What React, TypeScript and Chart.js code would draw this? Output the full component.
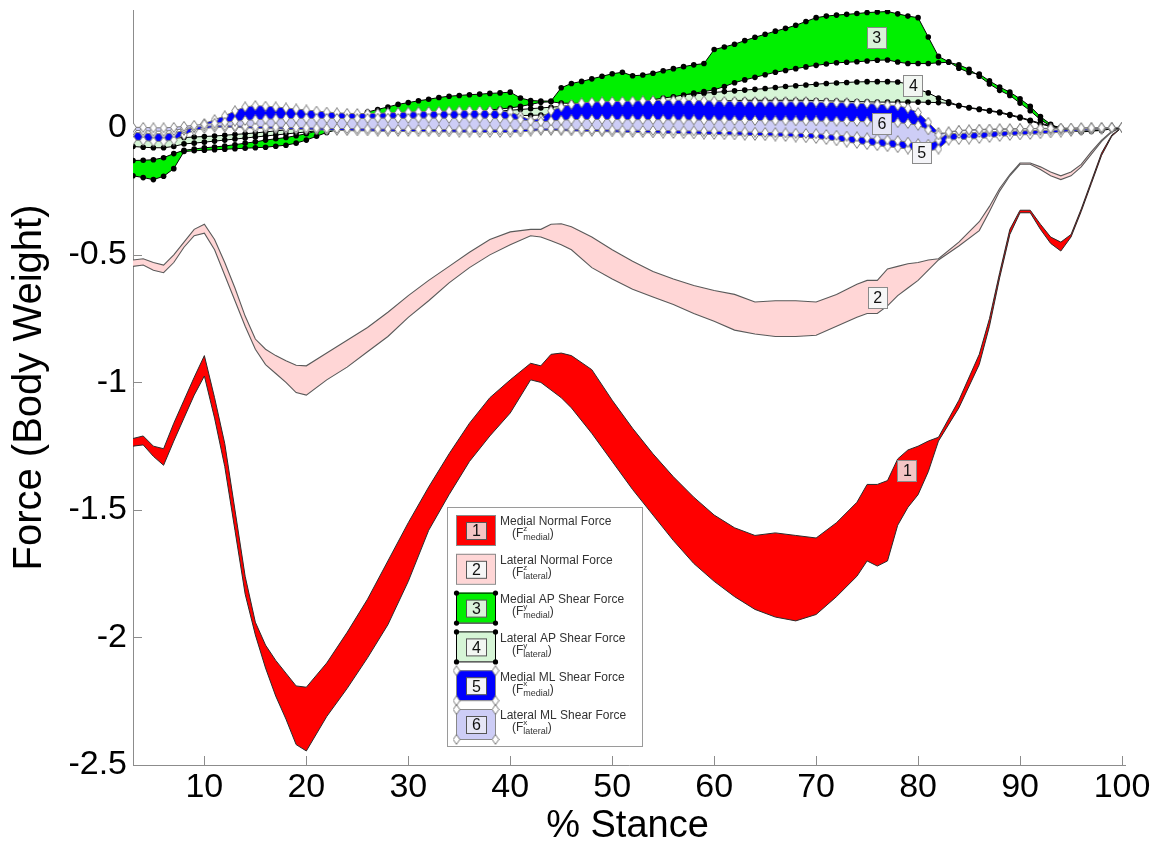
import React, { useEffect, useRef } from 'react';
import { Chart, registerables } from 'chart.js';

Chart.register(...registerables);

const FONT = "'Liberation Sans', Arial, Helvetica, sans-serif";

// ---------- Tick labels ----------
const xTicks = [10, 20, 30, 40, 50, 60, 70, 80, 90, 100];
const yTicks = [-2.5, -2, -1.5, -1, -0.5, 0];

// ---------- Normal forces (no markers) ----------
const xNormal = [3, 4, 5, 6, 7, 8, 9, 10, 11, 12, 13, 14, 15, 16, 17, 18, 19, 20, 22, 24, 26, 28, 30, 32, 34, 36, 38, 40, 42, 43, 44, 45, 46, 48, 50, 52, 54, 56, 58, 60, 62, 64, 66, 68, 70, 72, 74, 75, 76, 77, 78, 79, 80, 81, 82, 84, 86, 87, 88, 89, 90, 91, 92, 93, 94, 95, 96, 97, 98, 99, 100];

const medialNormalUpper = [-1.22, -1.21, -1.25, -1.26, -1.16, -1.07, -0.98, -0.895, -1.06, -1.24, -1.5, -1.76, -1.94, -2.03, -2.09, -2.14, -2.19, -2.195, -2.1, -1.98, -1.85, -1.7, -1.55, -1.41, -1.28, -1.16, -1.06, -0.99, -0.925, -0.935, -0.89, -0.885, -0.895, -0.95, -1.07, -1.18, -1.28, -1.37, -1.45, -1.52, -1.57, -1.6, -1.59, -1.6, -1.61, -1.55, -1.47, -1.4, -1.4, -1.385, -1.3, -1.265, -1.25, -1.23, -1.215, -1.07, -0.89, -0.75, -0.57, -0.4, -0.325, -0.325, -0.38, -0.43, -0.45, -0.42, -0.32, -0.21, -0.1, -0.03, 0];
const medialNormalLower = [-1.25, -1.245, -1.29, -1.325, -1.23, -1.14, -1.05, -0.975, -1.14, -1.33, -1.58, -1.83, -1.99, -2.12, -2.23, -2.32, -2.42, -2.445, -2.31, -2.2, -2.08, -1.95, -1.78, -1.58, -1.44, -1.31, -1.21, -1.12, -0.99, -1.0, -1.03, -1.06, -1.1, -1.2, -1.31, -1.42, -1.52, -1.62, -1.71, -1.78, -1.84, -1.89, -1.92, -1.935, -1.91, -1.84, -1.76, -1.7, -1.72, -1.7, -1.56, -1.49, -1.44, -1.35, -1.23, -1.1, -0.93, -0.78, -0.59, -0.42, -0.335, -0.335, -0.4, -0.455, -0.485, -0.43, -0.33, -0.22, -0.11, -0.035, 0];
const lateralNormalUpper = [-0.52, -0.515, -0.53, -0.54, -0.5, -0.45, -0.4, -0.38, -0.44, -0.53, -0.63, -0.74, -0.83, -0.87, -0.895, -0.915, -0.933, -0.935, -0.885, -0.835, -0.785, -0.725, -0.66, -0.6, -0.545, -0.49, -0.44, -0.41, -0.4, -0.4, -0.38, -0.378, -0.39, -0.43, -0.48, -0.525, -0.565, -0.595, -0.62, -0.64, -0.655, -0.685, -0.68, -0.68, -0.685, -0.655, -0.615, -0.6, -0.6, -0.555, -0.545, -0.535, -0.53, -0.52, -0.515, -0.45, -0.37, -0.31, -0.24, -0.185, -0.14, -0.14, -0.155, -0.175, -0.19, -0.175, -0.145, -0.095, -0.05, -0.015, 0];
const lateralNormalLower = [-0.545, -0.54, -0.56, -0.57, -0.53, -0.47, -0.425, -0.415, -0.48, -0.58, -0.68, -0.78, -0.87, -0.93, -0.965, -1.0, -1.04, -1.05, -0.99, -0.94, -0.88, -0.82, -0.745, -0.68, -0.61, -0.55, -0.5, -0.46, -0.425, -0.43, -0.445, -0.46, -0.48, -0.55, -0.595, -0.635, -0.665, -0.695, -0.73, -0.76, -0.795, -0.81, -0.82, -0.82, -0.815, -0.78, -0.745, -0.73, -0.73, -0.7, -0.66, -0.63, -0.6, -0.56, -0.52, -0.465, -0.405, -0.33, -0.25, -0.19, -0.145, -0.145, -0.165, -0.19, -0.205, -0.19, -0.155, -0.105, -0.055, -0.018, 0];

// ---------- Shear forces (1 % steps, with markers) ----------
const xShear = [3, 4, 5, 6, 7, 8, 9, 10, 11, 12, 13, 14, 15, 16, 17, 18, 19, 20, 21, 22, 23, 24, 25, 26, 27, 28, 29, 30, 31, 32, 33, 34, 35, 36, 37, 38, 39, 40, 41, 42, 43, 44, 45, 46, 47, 48, 49, 50, 51, 52, 53, 54, 55, 56, 57, 58, 59, 60, 61, 62, 63, 64, 65, 66, 67, 68, 69, 70, 71, 72, 73, 74, 75, 76, 77, 78, 79, 80, 81, 82, 83, 84, 85, 86, 87, 88, 89, 90, 91, 92, 93, 94, 95, 96, 97, 98, 99, 100];

const medialApA = [
  -0.13, -0.129, -0.127, -0.119, -0.103, -0.09, -0.085, -0.08, -0.077, -0.073,
  -0.068, -0.062, -0.057, -0.05, -0.045, -0.04, -0.033, -0.025, -0.015, 0.0,
  0.015, 0.03, 0.045, 0.06, 0.07, 0.08, 0.09, 0.097, 0.104, 0.11,
  0.117, 0.122, 0.125, 0.128, 0.13, 0.133, 0.135, 0.138, 0.115, 0.105,
  0.103, 0.103, 0.155, 0.172, 0.18, 0.19, 0.2, 0.21, 0.216, 0.202,
  0.205, 0.212, 0.222, 0.23, 0.238, 0.245, 0.25, 0.305, 0.315, 0.326,
  0.34, 0.353, 0.365, 0.377, 0.388, 0.4, 0.415, 0.43, 0.436, 0.44,
  0.443, 0.446, 0.45, 0.452, 0.454, 0.445, 0.436, 0.43, 0.354, 0.278,
  0.257, 0.232, 0.215, 0.209, 0.182, 0.158, 0.138, 0.112, 0.082, 0.042,
  0.012, -0.005, -0.014, -0.018, -0.015, -0.012, -0.006, 0];
const medialApB = [
  -0.19, -0.197, -0.205, -0.192, -0.162, -0.095, -0.092, -0.09, -0.088, -0.086,
  -0.084, -0.082, -0.08, -0.078, -0.074, -0.07, -0.062, -0.05, -0.035, -0.02,
  -0.01, -0.004, 0.002, 0.008, 0.014, 0.02, 0.026, 0.032, 0.037, 0.042,
  0.047, 0.052, 0.056, 0.06, 0.064, 0.068, 0.072, 0.076, 0.082, 0.09,
  0.098, 0.1, 0.095, 0.094, 0.094, 0.094, 0.093, 0.092, 0.092, 0.092,
  0.1, 0.108, 0.115, 0.12, 0.127, 0.134, 0.14, 0.147, 0.16, 0.175,
  0.186, 0.196, 0.206, 0.216, 0.223, 0.23, 0.237, 0.243, 0.248, 0.253,
  0.255, 0.257, 0.26, 0.263, 0.264, 0.256, 0.25, 0.25, 0.25, 0.253,
  0.255, 0.245, 0.228, 0.2, 0.17, 0.145, 0.125, 0.095, 0.065, 0.03,
  0.005, 0.0, -0.01, -0.014, -0.013, -0.01, -0.005, 0];
const lateralApA = [
  -0.04, -0.042, -0.043, -0.043, -0.042, -0.04, -0.038, -0.036, -0.034, -0.031,
  -0.028, -0.025, -0.022, -0.018, -0.014, -0.01, -0.006, -0.002, 0.002, 0.006,
  0.01, 0.014, 0.018, 0.022, 0.026, 0.03, 0.033, 0.036, 0.04, 0.043,
  0.046, 0.049, 0.052, 0.055, 0.058, 0.061, 0.064, 0.067, 0.07, 0.073,
  0.076, 0.079, 0.082, 0.086, 0.09, 0.094, 0.098, 0.102, 0.106, 0.11,
  0.114, 0.118, 0.122, 0.125, 0.128, 0.131, 0.134, 0.137, 0.14, 0.143,
  0.146, 0.149, 0.152, 0.156, 0.16, 0.163, 0.166, 0.169, 0.172, 0.174,
  0.176, 0.178, 0.179, 0.179, 0.179, 0.178, 0.17, 0.15, 0.135, 0.115,
  0.1, 0.085, 0.078, 0.072, 0.066, 0.06, 0.05, 0.04, 0.028, 0.016,
  0.006, -0.002, -0.008, -0.012, -0.012, -0.01, -0.005, 0];
const lateralApB = [
  -0.075, -0.078, -0.08, -0.08, -0.075, -0.065, -0.062, -0.058, -0.054, -0.05,
  -0.046, -0.042, -0.038, -0.034, -0.03, -0.026, -0.022, -0.018, -0.014, -0.01,
  -0.006, -0.002, 0.002, 0.006, 0.01, 0.013, 0.016, 0.019, 0.022, 0.025,
  0.028, 0.031, 0.034, 0.036, 0.038, 0.04, 0.042, 0.044, 0.046, 0.047,
  0.048, 0.049, 0.05, 0.051, 0.053, 0.058, 0.063, 0.068, 0.073, 0.078,
  0.082, 0.086, 0.09, 0.093, 0.096, 0.098, 0.1, 0.102, 0.104, 0.105,
  0.106, 0.106, 0.106, 0.106, 0.106, 0.106, 0.106, 0.105, 0.104, 0.103,
  0.102, 0.101, 0.1, 0.099, 0.099, 0.099, 0.099, 0.099, 0.098, 0.097,
  0.094, 0.085, 0.076, 0.07, 0.064, 0.057, 0.047, 0.037, 0.025, 0.013,
  0.003, -0.004, -0.01, -0.013, -0.013, -0.01, -0.005, 0];
const medialMlA = [
  -0.02, -0.022, -0.025, -0.025, -0.022, -0.012, 0.0, 0.015, 0.03, 0.045,
  0.065, 0.08, 0.085, 0.083, 0.08, 0.076, 0.072, 0.068, 0.064, 0.06,
  0.057, 0.055, 0.054, 0.054, 0.055, 0.057, 0.058, 0.06, 0.061, 0.062,
  0.063, 0.064, 0.065, 0.066, 0.066, 0.066, 0.065, 0.06, 0.045, 0.028,
  0.035, 0.065, 0.08, 0.09, 0.096, 0.099, 0.1, 0.101, 0.102, 0.103,
  0.104, 0.105, 0.106, 0.106, 0.106, 0.105, 0.104, 0.103, 0.102, 0.102,
  0.101, 0.1, 0.1, 0.1, 0.1, 0.1, 0.1, 0.099, 0.098, 0.097,
  0.096, 0.095, 0.093, 0.091, 0.088, 0.085, 0.075, 0.058, 0.02, -0.02,
  -0.025, -0.024, -0.022, -0.02, -0.018, -0.016, -0.015, -0.014, -0.013, -0.012,
  -0.011, -0.01, -0.009, -0.008, -0.006, -0.004, -0.002, 0];
const medialMlB = [
  -0.05, -0.052, -0.055, -0.055, -0.05, -0.03, -0.012, -0.005, 0.0, 0.0,
  0.0, -0.002, -0.004, -0.005, -0.006, -0.007, -0.008, -0.009, -0.01, -0.011,
  -0.012, -0.013, -0.014, -0.014, -0.015, -0.015, -0.016, -0.016, -0.017, -0.017,
  -0.018, -0.018, -0.019, -0.019, -0.02, -0.02, -0.02, -0.02, -0.018, -0.015,
  -0.012, -0.012, -0.013, -0.014, -0.015, -0.016, -0.017, -0.018, -0.019, -0.02,
  -0.021, -0.022, -0.023, -0.024, -0.025, -0.026, -0.027, -0.028, -0.029, -0.03,
  -0.031, -0.032, -0.033, -0.034, -0.036, -0.038, -0.041, -0.044, -0.048, -0.053,
  -0.058, -0.063, -0.068, -0.072, -0.076, -0.08, -0.085, -0.09, -0.093, -0.085,
  -0.05, -0.048, -0.046, -0.044, -0.04, -0.036, -0.032, -0.03, -0.028, -0.025,
  -0.022, -0.019, -0.016, -0.013, -0.01, -0.007, -0.003, 0];
const lateralMlA = [
  0.0, 0.0, -0.002, -0.002, 0.0, 0.004, 0.008, 0.012, 0.016, 0.02,
  0.024, 0.027, 0.03, 0.032, 0.033, 0.034, 0.035, 0.035, 0.035, 0.035,
  0.035, 0.034, 0.034, 0.035, 0.036, 0.036, 0.035, 0.035, 0.036, 0.036,
  0.036, 0.035, 0.035, 0.036, 0.036, 0.035, 0.034, 0.033, 0.03, 0.025,
  0.022, 0.025, 0.028, 0.03, 0.031, 0.031, 0.031, 0.031, 0.03, 0.03,
  0.03, 0.03, 0.03, 0.029, 0.029, 0.029, 0.028, 0.028, 0.028, 0.027,
  0.027, 0.027, 0.026, 0.026, 0.026, 0.025, 0.025, 0.025, 0.024, 0.024,
  0.023, 0.023, 0.022, 0.021, 0.02, 0.018, 0.015, 0.008, -0.01, -0.03,
  -0.018, -0.012, -0.01, -0.008, -0.007, -0.006, -0.006, -0.005, -0.005, -0.004,
  -0.004, -0.003, -0.003, -0.002, -0.002, -0.001, -0.001, 0];
const lateralMlB = [
  -0.012, -0.013, -0.015, -0.015, -0.012, -0.005, 0.0, 0.004, 0.006, 0.006,
  0.005, 0.004, 0.003, 0.002, 0.001, 0.0, -0.001, -0.002, -0.003, -0.004,
  -0.005, -0.005, -0.006, -0.006, -0.007, -0.007, -0.008, -0.008, -0.008, -0.009,
  -0.009, -0.009, -0.01, -0.01, -0.01, -0.01, -0.01, -0.01, -0.009, -0.007,
  -0.006, -0.006, -0.007, -0.008, -0.008, -0.009, -0.01, -0.01, -0.011, -0.011,
  -0.012, -0.012, -0.013, -0.013, -0.014, -0.014, -0.015, -0.015, -0.016, -0.017,
  -0.018, -0.019, -0.02, -0.021, -0.022, -0.023, -0.024, -0.025, -0.028, -0.031,
  -0.034, -0.037, -0.041, -0.045, -0.049, -0.052, -0.058, -0.064, -0.066, -0.05,
  -0.02, -0.014, -0.012, -0.01, -0.009, -0.008, -0.007, -0.006, -0.006, -0.005,
  -0.005, -0.004, -0.004, -0.003, -0.002, -0.002, -0.001, 0];

// ---------- Legend / annotation content ----------
const legendTitles = ['Medial Normal Force', 'Lateral Normal Force', 'Medial AP Shear Force', 'Lateral AP Shear Force', 'Medial ML Shear Force', 'Lateral ML Shear Force'];
const legendSup = ['z', 'z', 'y', 'y', 'x', 'x'];
const legendSub = ['medial', 'lateral', 'medial', 'lateral', 'medial', 'lateral'];
const bandLabelX = [78.9, 76.0, 75.9, 79.5, 80.3, 76.4];
const bandLabelY = [-1.345, -0.667, 0.353, 0.165, -0.098, 0.016];

const COLORS = {
  red: '#ff0000',
  pink: '#ffd6d6',
  green: '#00f000',
  lightGreen: '#d6f5d6',
  blue: '#0000ff',
  lavender: '#cdcdf6',
};
const bandFill = [COLORS.red, COLORS.pink, COLORS.green, COLORS.lightGreen, COLORS.blue, COLORS.lavender];
const labelBoxFill = ['#f4c4c4', '#f6f6f6', '#d9f2d9', '#f2f6f2', '#f4f4f8', '#e6e6f6'];

const pts = (xs: number[], ys: number[]) => xs.map((x, i) => ({ x, y: ys[i] }));

export default function App() {
  const ref = useRef<HTMLCanvasElement>(null);

  useEffect(() => {
    const canvas = ref.current;
    if (!canvas) return;

    const diamond = document.createElement('canvas');
    diamond.width = 8;
    diamond.height = 11;
    const dc = diamond.getContext('2d')!;
    dc.beginPath();
    dc.moveTo(4, 0.6);
    dc.lineTo(7.3, 5.5);
    dc.lineTo(4, 10.4);
    dc.lineTo(0.7, 5.5);
    dc.closePath();
    dc.fillStyle = '#ffffff';
    dc.fill();
    dc.strokeStyle = '#7a7a7a';
    dc.lineWidth = 1;
    dc.stroke();

    const dots = { pointRadius: 2.8, pointStyle: 'circle', pointBackgroundColor: '#000', pointBorderColor: '#000', pointBorderWidth: 0 };
    const diamonds = { pointRadius: 5, pointStyle: diamond, pointBackgroundColor: '#fff', pointBorderColor: '#777' };
    const noMarks = { pointRadius: 0 };

    // Chart.js paints higher indices first, so each band is [edge A, edge B + fill to A]
    // and bands are listed from the top-most (painted last) to the bottom-most.
    const band = (name: string, xs: number[], a: number[], b: number[], fillColor: string, line: string, lw: number, marks: any) => [
      { label: name, data: pts(xs, a), fill: false, backgroundColor: fillColor, borderColor: line, borderWidth: lw, tension: 0, ...marks },
      { label: name + ' (b)', data: pts(xs, b), fill: '-1', backgroundColor: fillColor, borderColor: line, borderWidth: lw, tension: 0, ...marks },
    ];

    const datasets: any[] = [
      ...band('Lateral ML Shear Force', xShear, lateralMlA, lateralMlB, COLORS.lavender, '#777', 1, diamonds),
      ...band('Medial ML Shear Force', xShear, medialMlA, medialMlB, COLORS.blue, '#777', 1, diamonds),
      ...band('Medial AP Shear Force', xShear, medialApA, medialApB, COLORS.green, '#000', 1, dots),
      ...band('Lateral AP Shear Force', xShear, lateralApA, lateralApB, COLORS.lightGreen, '#000', 1, dots),
      ...band('Medial Normal Force', xNormal, medialNormalUpper, medialNormalLower, COLORS.red, '#2a2a2a', 1, noMarks),
      ...band('Lateral Normal Force', xNormal, lateralNormalUpper, lateralNormalLower, COLORS.pink, '#5a5a5a', 1.1, noMarks),
    ];

    const decor = {
      id: 'decor',
      beforeDatasetsDraw(chart: any) {
        const { ctx, chartArea: a } = chart;
        ctx.save();
        ctx.strokeStyle = '#8c8c8c';
        ctx.lineWidth = 1;
        ctx.beginPath();
        ctx.moveTo(a.left + 0.5, a.top);
        ctx.lineTo(a.left + 0.5, a.bottom + 0.5);
        ctx.lineTo(a.right + 4, a.bottom + 0.5);
        ctx.stroke();
        const xs = chart.scales.x;
        const ys = chart.scales.y;
        ctx.beginPath();
        xTicks.forEach((v) => {
          const px = Math.round(xs.getPixelForValue(v)) + 0.5;
          ctx.moveTo(px, a.bottom);
          ctx.lineTo(px, a.bottom - 9);
        });
        yTicks.forEach((v) => {
          const py = Math.round(ys.getPixelForValue(v)) + 0.5;
          ctx.moveTo(a.left, py);
          ctx.lineTo(a.left + 9, py);
        });
        ctx.stroke();
        ctx.restore();
      },
      afterDatasetsDraw(chart: any) {
        const { ctx } = chart;
        const xs = chart.scales.x;
        const ys = chart.scales.y;
        ctx.save();
        bandLabelX.forEach((lx, i) => {
          const cx = xs.getPixelForValue(lx);
          const cy = ys.getPixelForValue(bandLabelY[i]);
          const w = 19, h = 21;
          ctx.fillStyle = labelBoxFill[i];
          ctx.fillRect(Math.round(cx - w / 2) + 0.5, Math.round(cy - h / 2) + 0.5, w, h);
          ctx.strokeStyle = '#8a8a8a';
          ctx.lineWidth = 1;
          ctx.strokeRect(Math.round(cx - w / 2) + 0.5, Math.round(cy - h / 2) + 0.5, w, h);
          ctx.fillStyle = '#111';
          ctx.font = `16px ${FONT}`;
          ctx.textAlign = 'center';
          ctx.textBaseline = 'middle';
          ctx.fillText(String(i + 1), cx + 0.5, cy + 1.5);
        });
        ctx.restore();
      },
      afterDraw(chart: any) {
        const { ctx } = chart;
        ctx.save();
        const lx = 447, ly = 507, lw = 195, lh = 239;
        ctx.fillStyle = '#ffffff';
        ctx.fillRect(lx, ly, lw, lh);
        ctx.strokeStyle = '#9a9a9a';
        ctx.lineWidth = 1;
        ctx.strokeRect(lx + 0.5, ly + 0.5, lw, lh);
        legendTitles.forEach((t, i) => {
          const sy = 515 + i * 38.8;
          const sx = 456, sw = 39, sh = 30;
          ctx.fillStyle = bandFill[i];
          ctx.fillRect(sx, sy, sw, sh);
          ctx.lineWidth = 1;
          ctx.strokeStyle = i < 2 ? '#8a8a8a' : i < 4 ? '#000' : '#888';
          ctx.strokeRect(sx + 0.5, sy + 0.5, sw, sh);
          if (i >= 2) {
            const corners = [[sx, sy], [sx + sw, sy], [sx, sy + sh], [sx + sw, sy + sh]];
            corners.forEach(([cx, cy]) => {
              if (i < 4) {
                ctx.fillStyle = '#000';
                ctx.beginPath();
                ctx.arc(cx + 0.5, cy + 0.5, 2.6, 0, Math.PI * 2);
                ctx.fill();
              } else {
                ctx.drawImage(diamond, cx + 0.5 - 4, cy + 0.5 - 5.5);
              }
            });
          }
          const bx = sx + 10, by = sy + 7, bw = 20, bh = 17;
          ctx.fillStyle = labelBoxFill[i];
          ctx.fillRect(bx + 0.5, by + 0.5, bw, bh);
          ctx.strokeStyle = '#555';
          ctx.strokeRect(bx + 0.5, by + 0.5, bw, bh);
          ctx.fillStyle = '#111';
          ctx.font = `16px ${FONT}`;
          ctx.textAlign = 'center';
          ctx.textBaseline = 'middle';
          ctx.fillText(String(i + 1), bx + bw / 2 + 0.5, by + bh / 2 + 1.5);
          ctx.textAlign = 'left';
          ctx.fillStyle = '#333';
          ctx.font = `12px ${FONT}`;
          ctx.fillText(t, 500, sy + 7);
          const x0 = 512, y0 = sy + 19;
          ctx.fillText('(F', x0, y0);
          const wF = ctx.measureText('(F').width;
          ctx.font = `8px ${FONT}`;
          ctx.fillText(legendSup[i], x0 + wF, y0 - 5);
          ctx.font = `9px ${FONT}`;
          ctx.fillText(legendSub[i], x0 + wF, y0 + 4);
          const wS = ctx.measureText(legendSub[i]).width;
          ctx.font = `12px ${FONT}`;
          ctx.fillText(')', x0 + wF + wS, y0);
        });
        ctx.restore();
      },
    };

    const chart = new Chart(canvas, {
      type: 'line',
      data: { datasets },
      options: {
        animation: false,
        responsive: false,
        events: [],
        layout: { padding: { top: 10, right: 46, left: 0, bottom: 0 } },
        plugins: {
          legend: { display: false },
          tooltip: { enabled: false },
          filler: { drawTime: 'beforeDatasetDraw' },
        },
        scales: {
          x: {
            type: 'linear',
            min: 3,
            max: 100,
            grid: { display: false, drawTicks: false },
            border: { display: false },
            ticks: { font: { family: FONT, size: 34 }, color: '#000', padding: 2, maxRotation: 0, autoSkip: false },
            afterBuildTicks: (s: any) => { s.ticks = xTicks.map((v) => ({ value: v })); },
            afterFit: (s: any) => { s.height = 85; s.paddingLeft = 0; s.paddingRight = 0; },
            title: { display: true, text: '% Stance', font: { family: FONT, size: 38 }, color: '#000', padding: { top: 0, bottom: 1 } },
          },
          y: {
            type: 'linear',
            min: -2.5,
            max: 0.46,
            grid: { display: false, drawTicks: false },
            border: { display: false },
            ticks: { font: { family: FONT, size: 34 }, color: '#000', padding: 6, callback: (v: any) => String(v) },
            afterBuildTicks: (s: any) => { s.ticks = yTicks.map((v) => ({ value: v })); },
            afterFit: (s: any) => { s.width = 133; s.paddingTop = 0; s.paddingBottom = 0; },
            title: { display: true, text: 'Force (Body Weight)', font: { family: FONT, size: 40 }, color: '#000', padding: { top: 6, bottom: 0 } },
          },
        },
      } as any,
      plugins: [decor],
    });

    return () => chart.destroy();
  }, []);

  return (
    <div style={{ position: 'absolute', left: 0, top: 0, width: 1168, height: 850, background: '#fff' }}>
      <canvas ref={ref} width={1168} height={850} style={{ display: 'block' }} />
    </div>
  );
}
